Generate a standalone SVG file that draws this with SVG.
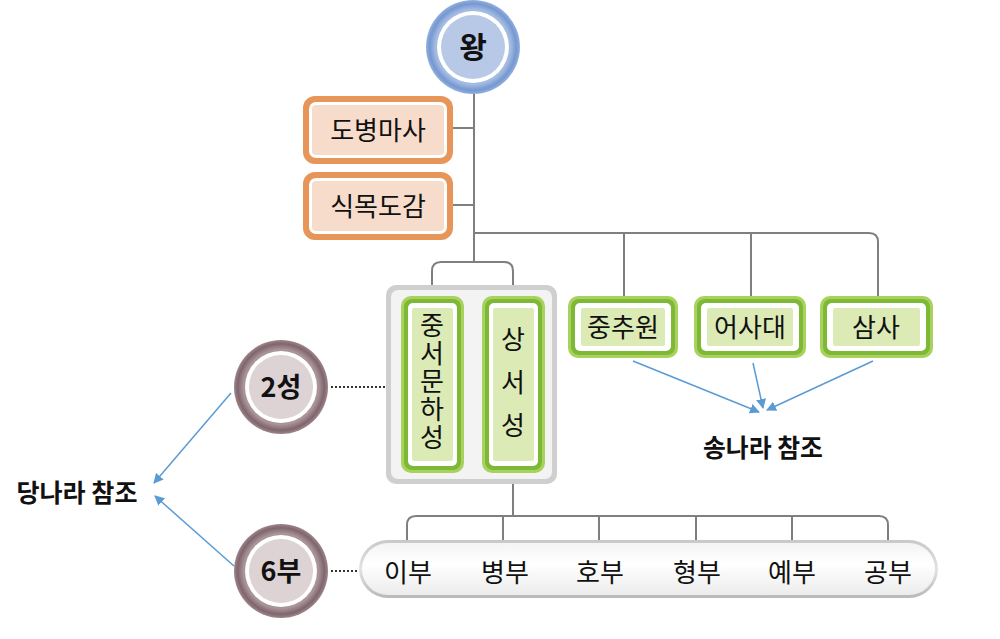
<svg xmlns="http://www.w3.org/2000/svg" width="1000" height="639" viewBox="0 0 1000 639">
<defs>
<style>
.t{font-family:"Noto Sans CJK KR","Noto Sans",sans-serif;fill:#111;text-anchor:middle}
.lbl{font-size:26px}
.b{font-weight:bold}
.v{writing-mode:vertical-rl}
.ln{fill:none;stroke:#7f7f7f;stroke-width:2}
.ar{fill:none;stroke:#5b9bd5;stroke-width:1.5}
.dot{stroke:#333;stroke-width:2;stroke-dasharray:2 2}
.or1{fill:#e8955a}
.or2{fill:#fff}
.or3{fill:#f7dccb}
.g1{fill:#a8d15d}
.g2{fill:#7db936}
.g3{fill:#fff}
.g4{fill:#dcebb5}
</style>
<marker id="ah" viewBox="0 0 10 10" refX="9" refY="5" markerWidth="10" markerHeight="10" markerUnits="userSpaceOnUse" orient="auto">
<path d="M0,0 L10,5 L0,10 z" fill="#5b9bd5"/>
</marker>
<radialGradient id="blueRing" cx="0.5" cy="0.5" r="0.5">
<stop offset="0.8" stop-color="#a3bbe2"/>
<stop offset="0.92" stop-color="#7598d1"/>
<stop offset="1" stop-color="#92afdd"/>
</radialGradient>
<radialGradient id="mauveRing" cx="0.5" cy="0.5" r="0.5">
<stop offset="0.8" stop-color="#a8949a"/>
<stop offset="0.92" stop-color="#80666c"/>
<stop offset="1" stop-color="#9c858b"/>
</radialGradient>
<linearGradient id="pill" x1="0" y1="0" x2="0" y2="1">
<stop offset="0" stop-color="#c8c8c8"/>
<stop offset="0.5" stop-color="#e2e2e2"/>
<stop offset="1" stop-color="#b8b8b8"/>
</linearGradient>
<linearGradient id="pillIn" x1="0" y1="0" x2="0" y2="1">
<stop offset="0" stop-color="#f4f4f4"/>
<stop offset="0.4" stop-color="#ffffff"/>
<stop offset="1" stop-color="#ececec"/>
</linearGradient>
</defs>

<g id="connectors">
<path class="ln" d="M474,92 V262"/>
<path class="ln" d="M453,128 H474 M453,205 H474"/>
<path class="ln" d="M474,233 H869 Q878,233 878,242 V296"/>
<path class="ln" d="M624,233 V296 M751,233 V296"/>
<path class="ln" d="M441,262 H504 Q513,262 513,271 V292 M441,262 Q432,262 432,271 V292"/>
<path class="ln" d="M513,472 V516"/>
<path class="ln" d="M416,516 H879 Q888,516 888,525 V546 M416,516 Q407,516 407,525 V546"/>
<path class="ln" d="M503,516 V546 M599,516 V546 M696,516 V546 M792,516 V546"/>
<line class="dot" x1="331" y1="387" x2="386" y2="387"/>
<line class="dot" x1="331" y1="571" x2="359" y2="571"/>
<line class="ar" x1="231" y1="393" x2="154" y2="483" marker-end="url(#ah)"/>
<line class="ar" x1="234" y1="566" x2="155" y2="496" marker-end="url(#ah)"/>
<line class="ar" x1="633" y1="361" x2="759" y2="412" marker-end="url(#ah)"/>
<line class="ar" x1="753" y1="363" x2="763" y2="408" marker-end="url(#ah)"/>
<line class="ar" x1="873" y1="361" x2="767" y2="410" marker-end="url(#ah)"/>
</g>

<g id="king">
<circle cx="473" cy="47" r="47" fill="url(#blueRing)"/>
<circle cx="473" cy="47" r="36" fill="#fff"/>
<circle cx="473" cy="47" r="32" fill="#b8c9e8"/>
<text class="t b" x="473" y="58" font-size="30">왕</text>
</g>

<g id="dobyeongmasa">
<rect class="or1" x="303" y="96" width="150" height="68" rx="12"/>
<rect class="or2" x="309" y="102" width="138" height="56" rx="7"/>
<rect class="or3" x="312" y="105" width="132" height="50" rx="4"/>
<text class="t lbl" x="378" y="140">도병마사</text>
</g>

<g id="sikmokdogam">
<rect class="or1" x="303" y="172" width="150" height="68" rx="12"/>
<rect class="or2" x="309" y="178" width="138" height="56" rx="7"/>
<rect class="or3" x="312" y="181" width="132" height="50" rx="4"/>
<text class="t lbl" x="378" y="216">식목도감</text>
</g>

<g id="container">
<rect x="386" y="285" width="171" height="199" rx="10" fill="#cfcfcf"/>
<rect x="391" y="290" width="161" height="189" rx="7" fill="#f3f3f3"/>
</g>

<g id="jungseomunhaseong">
<rect class="g1" x="401" y="296" width="63" height="177" rx="10"/>
<rect class="g2" x="404" y="299" width="57" height="171" rx="8"/>
<rect class="g3" x="408" y="303" width="49" height="163" rx="5"/>
<rect class="g4" x="412" y="308" width="41" height="153" rx="2"/>
<text class="t lbl v" x="432" y="382" letter-spacing="2">중서문하성</text>
</g>

<g id="sangseoseong">
<rect class="g1" x="482" y="296" width="63" height="177" rx="10"/>
<rect class="g2" x="485" y="299" width="57" height="171" rx="8"/>
<rect class="g3" x="489" y="303" width="49" height="163" rx="5"/>
<rect class="g4" x="493" y="308" width="41" height="153" rx="2"/>
<text class="t lbl v" x="513" y="391" letter-spacing="17">상서성</text>
</g>

<g id="jungchuwon">
<rect class="g1" x="568" y="296" width="110" height="62" rx="10"/>
<rect class="g2" x="571" y="299" width="104" height="56" rx="8"/>
<rect class="g3" x="575" y="303" width="96" height="48" rx="5"/>
<rect class="g4" x="581" y="308" width="84" height="38" rx="2"/>
<text class="t lbl" x="623" y="337">중추원</text>
</g>

<g id="eosadae">
<rect class="g1" x="694" y="296" width="112" height="62" rx="10"/>
<rect class="g2" x="697" y="299" width="106" height="56" rx="8"/>
<rect class="g3" x="701" y="303" width="98" height="48" rx="5"/>
<rect class="g4" x="707" y="308" width="86" height="38" rx="2"/>
<text class="t lbl" x="750" y="337">어사대</text>
</g>

<g id="samsa">
<rect class="g1" x="820" y="296" width="113" height="62" rx="10"/>
<rect class="g2" x="823" y="299" width="107" height="56" rx="8"/>
<rect class="g3" x="827" y="303" width="99" height="48" rx="5"/>
<rect class="g4" x="833" y="308" width="87" height="38" rx="2"/>
<text class="t lbl" x="876" y="337">삼사</text>
</g>

<g id="seong2">
<circle cx="281" cy="387" r="47" fill="url(#mauveRing)"/>
<circle cx="281" cy="387" r="36" fill="#fff"/>
<circle cx="281" cy="387" r="32" fill="#ddd3d5"/>
<text class="t b" x="281" y="397" font-size="27">2성</text>
</g>

<g id="bu6">
<circle cx="281" cy="571" r="47" fill="url(#mauveRing)"/>
<circle cx="281" cy="571" r="36" fill="#fff"/>
<circle cx="281" cy="571" r="32" fill="#ddd3d5"/>
<text class="t b" x="281" y="581" font-size="27">6부</text>
</g>

<g id="yukbu">
<rect x="359" y="540" width="579" height="58" rx="29" fill="url(#pill)"/>
<rect x="362" y="543" width="573" height="52" rx="26" fill="url(#pillIn)"/>
<text class="t lbl" x="408" y="582">이부</text>
<text class="t lbl" x="505" y="582">병부</text>
<text class="t lbl" x="600" y="582">호부</text>
<text class="t lbl" x="697" y="582">형부</text>
<text class="t lbl" x="792" y="582">예부</text>
<text class="t lbl" x="888" y="582">공부</text>
</g>

<g id="tang">
<text class="t b" x="77" y="502" font-size="25" textLength="121" lengthAdjust="spacingAndGlyphs">당나라 참조</text>
</g>

<g id="song">
<text class="t b" x="763" y="457" font-size="25" textLength="120" lengthAdjust="spacingAndGlyphs">송나라 참조</text>
</g>
</svg>
